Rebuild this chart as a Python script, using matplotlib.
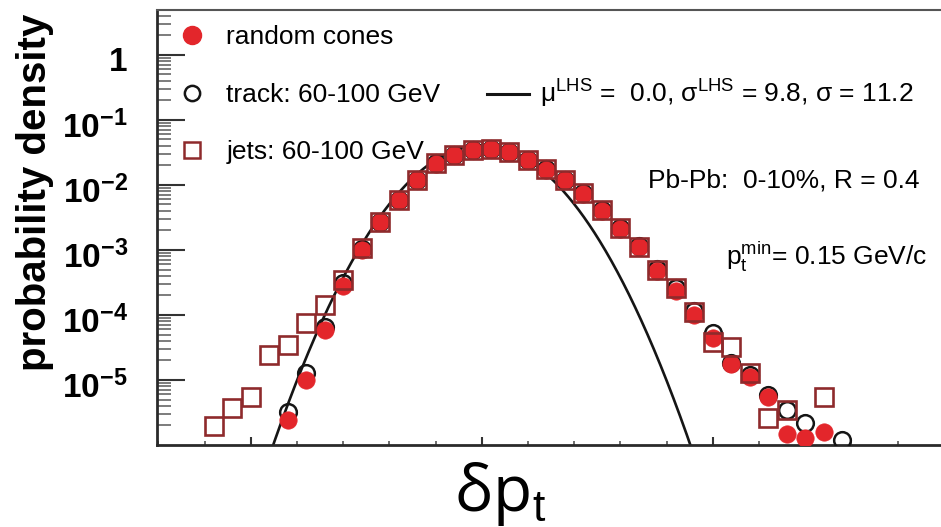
import numpy as np
import matplotlib
matplotlib.use("Agg")
import matplotlib.pyplot as plt
import matplotlib.transforms as mtransforms
from matplotlib.lines import Line2D
from matplotlib.ticker import FixedLocator, LogLocator, MultipleLocator, FuncFormatter, NullFormatter

plt.rcParams['font.family'] = ['Liberation Sans', 'DejaVu Sans']
plt.rcParams['mathtext.fontset'] = 'custom'
plt.rcParams['mathtext.rm'] = 'Liberation Sans'
plt.rcParams['mathtext.it'] = 'Liberation Sans:italic'
plt.rcParams['mathtext.bf'] = 'Liberation Sans:bold'
plt.rcParams['mathtext.default'] = 'regular'

# ---------------- data ----------------
rc_x = [-42, -38, -34, -30, -26, -22, -18, -14, -10, -6, -2, 2, 6, 10, 14, 18, 22, 26,
        30, 34, 38, 42, 46, 50, 54, 58, 62, 66, 70, 74]
rc_y = [2.43e-6, 1.0e-5, 5.9e-5, 2.8e-4, 1.0e-3, 2.65e-3, 5.8e-3, 1.17e-2, 2.12e-2, 2.85e-2,
        3.45e-2, 3.55e-2, 3.2e-2, 2.4e-2, 1.72e-2, 1.17e-2, 7.3e-3, 4.0e-3, 2.1e-3, 1.1e-3,
        4.8e-4, 2.3e-4, 1.0e-4, 4.4e-5, 1.76e-5, 1.13e-5, 5.5e-6, 1.5e-6, 1.27e-6, 1.58e-6]

track_x = [-42, -38, -34, -30, -26, -22, -18, -14, -10, -6, -2, 2, 6, 10, 14, 18, 22, 26,
           30, 34, 38, 42, 46, 50, 54, 58, 62, 66, 70, 78]
track_y = [3.25e-6, 1.27e-5, 6.6e-5, 3.1e-4, 1.03e-3, 2.7e-3, 5.9e-3, 1.19e-2, 2.15e-2, 2.9e-2,
           3.5e-2, 3.6e-2, 3.25e-2, 2.43e-2, 1.75e-2, 1.19e-2, 7.5e-3, 4.1e-3, 2.2e-3, 1.15e-3,
           5.1e-4, 2.6e-4, 1.15e-4, 5.3e-5, 1.85e-5, 1.2e-5, 5.9e-6, 3.45e-6, 2.2e-6, 1.2e-6]

jets_x = [-58, -54, -50, -46, -42, -38, -34, -30, -26, -22, -18, -14, -10, -6, -2, 2, 6, 10,
          14, 18, 22, 26, 30, 34, 38, 42, 46, 50, 54, 58, 62, 66, 74]
jets_y = [1.98e-6, 3.67e-6, 5.5e-6, 2.4e-5, 3.45e-5, 7.45e-5, 1.43e-4, 3.46e-4, 1.06e-3, 2.72e-3,
          5.9e-3, 1.19e-2, 2.16e-2, 2.9e-2, 3.5e-2, 3.6e-2, 3.25e-2, 2.43e-2, 1.75e-2, 1.19e-2,
          7.45e-3, 4.1e-3, 2.16e-3, 1.12e-3, 4.9e-4, 2.6e-4, 1.12e-4, 3.9e-5, 3.25e-5, 1.28e-5,
          2.57e-6, 3.45e-6, 5.5e-6]

fit_mu = 0.0
fit_sigma = 9.8

y_tick_values = [1e-5, 1e-4, 1e-3, 1e-2, 1e-1, 1.0]

labels = ["random cones", "track: 60-100 GeV", "jets: 60-100 GeV"]
fit_label = r"$\mathrm{\mu}^{\rm LHS}$ =  0.0, $\mathrm{\sigma}^{\rm LHS}$ = 9.8, $\mathrm{\sigma}$ = 11.2"

RED = '#e3262b'
DRED = '#8e2a2c'
BLK = '#151515'

# ---------------- figure ----------------
W, H = 941, 527
fig = plt.figure(figsize=(W / 100, H / 100), dpi=100)
ax = fig.add_axes([157 / W, 82 / H, (W - 157) / W, 435 / H])
ax.set_yscale('log')
ax.set_xlim(-70.3, 99.4)
ax.set_ylim(1e-6, 4.9)

# fit curve
xs = np.linspace(-70.3, 99.4, 1200)
amp = 1.0 / (fit_sigma * np.sqrt(2 * np.pi))
ys = amp * np.exp(-0.5 * ((xs - fit_mu) / fit_sigma) ** 2)
ax.plot(xs, ys, color=BLK, lw=1.9, zorder=2)

ax.plot(track_x, track_y, ls='none', marker='o', ms=12, mfc='none', mec=BLK, mew=1.8, zorder=3)
ax.plot(rc_x, rc_y, ls='none', marker='o', ms=12.5, mfc=RED, mec=RED, mew=0.5, zorder=4)
ax.plot(jets_x, jets_y, ls='none', marker='s', ms=13, mfc='none', mec=DRED, mew=1.9, zorder=5)

# spines
for s in ['left', 'bottom']:
    ax.spines[s].set_linewidth(2.0)
    ax.spines[s].set_color('#2a2a2a')
ax.spines['top'].set_linewidth(1.5)
ax.spines['top'].set_color('#555555')
ax.spines['right'].set_visible(False)

# ticks
ax.yaxis.set_major_locator(FixedLocator(y_tick_values))
ax.yaxis.set_minor_locator(LogLocator(base=10, subs=np.arange(2, 10)))
ax.yaxis.set_minor_formatter(NullFormatter())

def yfmt(v, pos):
    e = int(round(np.log10(v)))
    if e == 0:
        return '1'
    return r'$10^{%d}$' % e

ax.yaxis.set_major_formatter(FuncFormatter(yfmt))
ax.xaxis.set_major_locator(MultipleLocator(50))
ax.xaxis.set_minor_locator(MultipleLocator(10))
ax.tick_params(axis='y', which='major', direction='in', length=20, width=1.5, color='#333333',
               pad=21, labelsize=24)
ax.tick_params(axis='y', which='minor', direction='in', length=10, width=1.2, color='#666666')
ax.tick_params(axis='x', which='major', direction='in', length=6, width=1.5, color='#333333',
               labelbottom=False)
ax.tick_params(axis='x', which='minor', direction='in', length=3, width=1.2, color='#555555')
offset = mtransforms.ScaledTranslation(0, -4 / 100, fig.dpi_scale_trans)
for lab in ax.get_yticklabels():
    lab.set_fontweight('bold')
    lab.set_transform(lab.get_transform() + offset)

ax.set_ylabel('probability density', fontsize=29, fontweight='bold')
ax.yaxis.set_label_coords(-0.132, 0.58)

ax.set_xlabel(r'δp$_{\rm t}$', fontsize=46, family=['Open Sans', 'DejaVu Sans'])
ax.xaxis.set_label_coords(0.437, -0.035)

# legends
h1 = [Line2D([], [], ls='none', marker='o', ms=13, mfc=RED, mec=RED),
      Line2D([], [], ls='none', marker='o', ms=11, mfc='none', mec=BLK, mew=1.8),
      Line2D([], [], ls='none', marker='s', ms=12, mfc='none', mec=DRED, mew=1.8)]
leg1 = ax.legend(h1, labels, loc='upper left', bbox_to_anchor=(0.028, 0.965), frameon=False,
                 fontsize=19, handlelength=1.0, handletextpad=0.8, labelspacing=1.27,
                 borderpad=0, borderaxespad=0, numpoints=1)
ax.add_artist(leg1)
h2 = [Line2D([], [], color=BLK, lw=2.2)]
ax.legend(h2, [fit_label], loc='upper left', bbox_to_anchor=(0.421, 0.843), frameon=False,
          fontsize=19, handlelength=1.6, handletextpad=0.4, borderpad=0, borderaxespad=0)

ax.text(0.973, 0.591, 'Pb-Pb:  0-10%, R = 0.4', transform=ax.transAxes, fontsize=19,
        ha='right', va='baseline')
ax.text(0.982, 0.414, r'p$_{\rm t}^{\rm min}$= 0.15 GeV/c', transform=ax.transAxes, fontsize=19,
        ha='right', va='baseline')

fig.savefig('out.png', dpi=100)
